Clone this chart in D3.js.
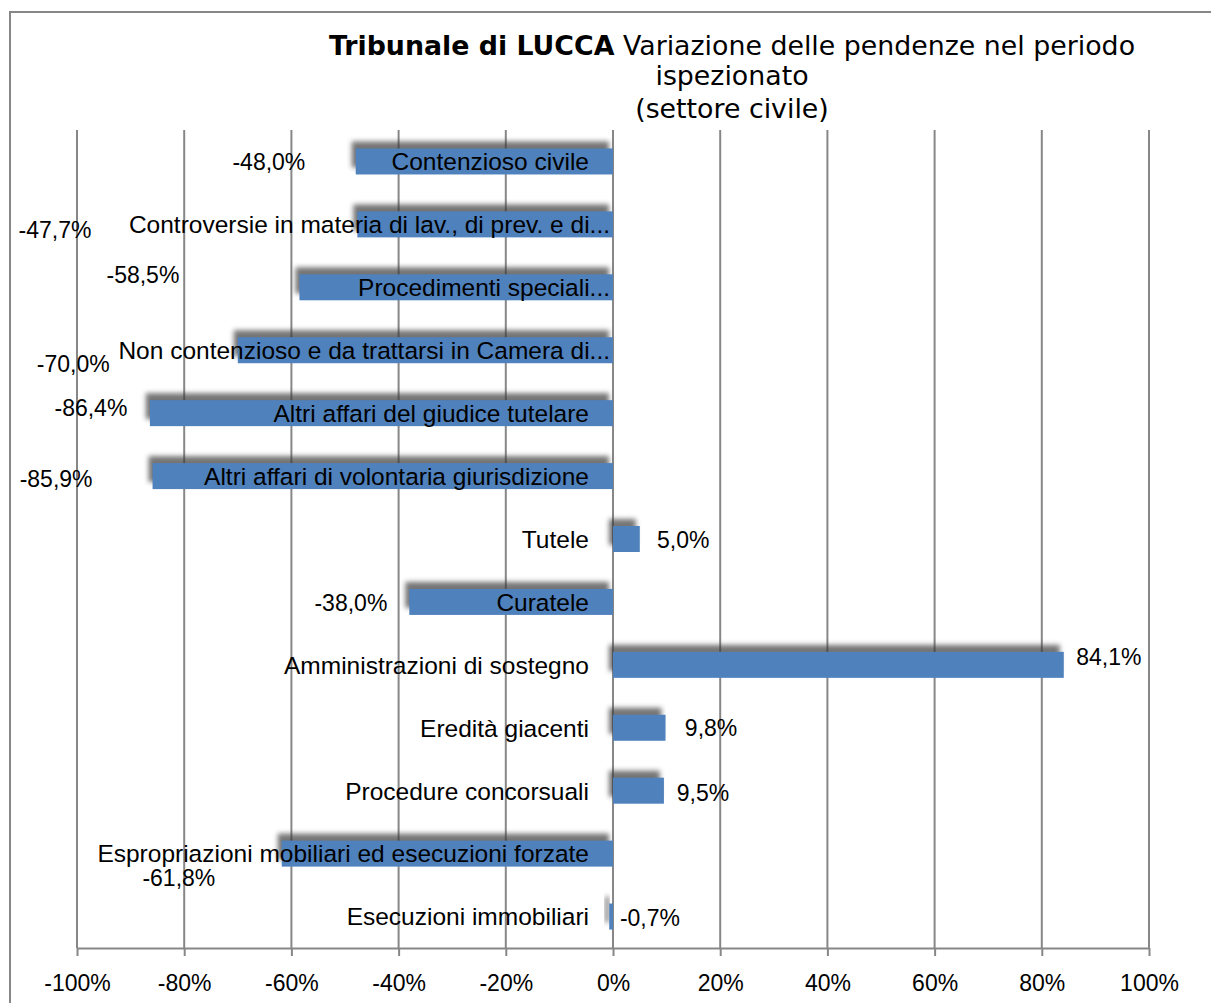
<!DOCTYPE html>
<html>
<head>
<meta charset="utf-8">
<script src="https://cdn.jsdelivr.net/npm/d3@7"></script>
<style>
  body { margin: 0; background: #fff; }
  svg { display: block; }
</style>
</head>
<body>
<svg id="chart"></svg>
<script>
// data
const categories = [
    'Contenzioso civile',
    'Controversie in materia di lav., di prev. e di...',
    'Procedimenti speciali...',
    'Non contenzioso e da trattarsi in Camera di...',
    'Altri affari del giudice tutelare',
    'Altri affari di volontaria giurisdizione',
    'Tutele',
    'Curatele',
    'Amministrazioni di sostegno',
    'Eredità giacenti',
    'Procedure concorsuali',
    'Espropriazioni mobiliari ed esecuzioni forzate',
    'Esecuzioni immobiliari'
];
const variazione = [-48.0, -47.7, -58.5, -70.0, -86.4, -85.9, 5.0, -38.0, 84.1, 9.8, 9.5, -61.8, -0.7];
const xTicks = [-100, -80, -60, -40, -20, 0, 20, 40, 60, 80, 100];

// manual data-label placement (in axis %, and px shift from row centre)
const labelAt = [-64.2, -104.1, -87.7, -100.7, -97.4, -103.9, 13.1, -48.9, 92.5, 18.3, 16.8, -81.0, 6.9];
const labelDy = [0, 5, -13, 13, -5, 3, 1, 1, -8, 0, 2, 24, 1];

const width = 1211;
const height = 1003;
const gray = '#878787';
const barColor = '#4f81bd';
const font = '"Liberation Sans", Arial, sans-serif';

const svg = d3.select('#chart')
    .attr('width', width)
    .attr('height', height);

const defs = svg.append('defs');
defs.append('filter')
    .attr('id', 'blur')
    .attr('x', '-20%').attr('y', '-60%')
    .attr('width', '140%').attr('height', '220%')
    .append('feGaussianBlur')
    .attr('stdDeviation', 2.5);

// outer frame
svg.append('rect')
    .attr('x', 10).attr('y', 12)
    .attr('width', width + 20).attr('height', height + 20)
    .attr('fill', 'none')
    .attr('stroke', gray)
    .attr('stroke-width', 2);

const x = d3.scaleLinear().domain([-100, 100]).range([77, 1149]);
const y = d3.scaleBand().domain(categories).range([130, 948]);
const barH = 26;

// gridlines
svg.append('g')
    .selectAll('line')
    .data(xTicks)
    .enter().append('line')
    .attr('x1', d => x(d)).attr('x2', d => x(d))
    .attr('y1', 130).attr('y2', 948)
    .attr('stroke', gray)
    .attr('stroke-width', 2);

// x axis
const axis = svg.append('g')
    .attr('transform', 'translate(0,948)')
    .call(d3.axisBottom(x)
        .tickValues(xTicks)
        .tickSize(8)
        .tickSizeOuter(0)
        .tickPadding(19)
        .tickFormat(d => d + '%'));
axis.select('.domain').attr('stroke', gray).attr('stroke-width', 2);
axis.selectAll('.tick line').attr('stroke', gray).attr('stroke-width', 2);
axis.selectAll('.tick text')
    .attr('font-family', font)
    .attr('font-size', 23)
    .attr('fill', '#000');

const rows = categories.map((c, i) => ({ cat: c, v: variazione[i], i: i }));

// shadows
svg.append('g')
    .selectAll('rect')
    .data(rows)
    .enter().append('rect')
    .attr('x', d => Math.min(x(0), x(d.v)) - 4)
    .attr('y', d => y(d.cat) + y.bandwidth() / 2 - barH / 2 - 7)
    .attr('width', d => Math.abs(x(d.v) - x(0)))
    .attr('height', barH)
    .attr('fill', '#3a3a3a')
    .attr('opacity', 0.7)
    .attr('filter', 'url(#blur)');

// bars
svg.append('g')
    .selectAll('rect')
    .data(rows)
    .enter().append('rect')
    .attr('x', d => Math.min(x(0), x(d.v)))
    .attr('y', d => y(d.cat) + y.bandwidth() / 2 - barH / 2)
    .attr('width', d => Math.max(2, Math.abs(x(d.v) - x(0))))
    .attr('height', barH)
    .attr('fill', barColor);

// category labels
svg.append('g')
    .selectAll('text')
    .data(rows)
    .enter().append('text')
    .attr('x', d => x(0) - 24 + (d.cat.endsWith('...') ? 21 : 0))
    .attr('y', d => y(d.cat) + y.bandwidth() / 2)
    .attr('dy', '0.36em')
    .attr('text-anchor', 'end')
    .attr('font-family', font)
    .attr('font-size', 24.5)
    .attr('fill', '#000')
    .text(d => d.cat);

// value labels
svg.append('g')
    .selectAll('text')
    .data(rows)
    .enter().append('text')
    .attr('x', d => x(labelAt[d.i]))
    .attr('y', d => y(d.cat) + y.bandwidth() / 2 + labelDy[d.i])
    .attr('dy', '0.36em')
    .attr('text-anchor', 'middle')
    .attr('font-family', font)
    .attr('font-size', 23)
    .attr('fill', '#000')
    .text(d => d.v.toFixed(1).replace('.', ',') + '%');

// title
const title = svg.append('text')
    .attr('text-anchor', 'middle')
    .attr('font-family', '"DejaVu Sans", Verdana, sans-serif')
    .attr('font-size', 26.8)
    .attr('fill', '#000');
const l1 = title.append('tspan').attr('x', 732).attr('y', 55);
l1.append('tspan').attr('font-weight', 'bold').text('Tribunale di LUCCA');
l1.append('tspan').text(' Variazione delle pendenze nel periodo');
title.append('tspan').attr('x', 732).attr('y', 85).text('ispezionato');
title.append('tspan').attr('x', 732).attr('y', 118).text('(settore civile)');
</script>
</body>
</html>
